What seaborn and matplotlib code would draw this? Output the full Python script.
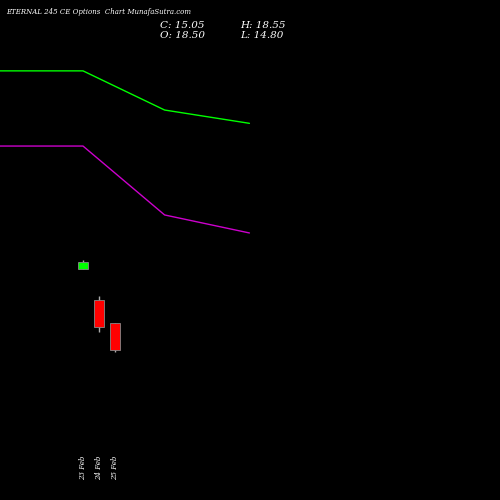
import matplotlib
matplotlib.use("Agg")
import matplotlib.pyplot as plt
import seaborn as sns
import pandas as pd

sns.set_style("dark")
dates = ["23 Feb", "24 Feb", "25 Feb"]
opens = [25.45, 21.44, 18.50]
closes = [26.3, 18.0, 15.05]
highs = [26.6, 21.95, 18.55]
lows = [25.45, 17.35, 14.80]
line_x = [-5.2, 0, 5.1, 10.4]
green_line = [50.7, 50.7, 45.7, 44.0]
purple_line = [41.1, 41.1, 32.3, 30.0]

fig = plt.figure(figsize=(5, 5), dpi=100, facecolor="black")
ax = fig.add_axes([0, 0, 1, 1], facecolor="black")
df = pd.DataFrame({"x": line_x, "g": green_line, "p": purple_line})
sns.lineplot(data=df, x="x", y="g", color="#00ff00", lw=1, ax=ax)
sns.lineplot(data=df, x="x", y="p", color="#cc00cc", lw=1, ax=ax)
for i, (o, c, h, l) in enumerate(zip(opens, closes, highs, lows)):
    col = "#00ff00" if c >= o else "#ff0000"
    ax.vlines(i, l, h, color="#aaaaaa", lw=1, zorder=1)
    ax.bar(i, abs(c - o), bottom=min(o, c), width=0.58, color=col, edgecolor="#888888", lw=0.6, zorder=2)
    ax.text(i, 1.6, dates[i], rotation=90, color="white", fontsize=5, family="DejaVu Serif",
            style="italic", ha="center", va="top")
ax.set_xlim(-5.1875, 26.06)
ax.set_ylim(-4.1, 59.75)
ax.axis("off")
fig.text(0.012, 0.985, "ETERNAL 245 CE Options  Chart MunafaSutra.com", color="white", fontsize=5,
         family="DejaVu Serif", style="italic", va="top")
fig.text(0.32, 0.958, "C: 15.05", color="white", fontsize=7.5, family="DejaVu Serif", style="italic", va="top")
fig.text(0.32, 0.938, "O: 18.50", color="white", fontsize=7.5, family="DejaVu Serif", style="italic", va="top")
fig.text(0.48, 0.958, "H: 18.55", color="white", fontsize=7.5, family="DejaVu Serif", style="italic", va="top")
fig.text(0.48, 0.938, "L: 14.80", color="white", fontsize=7.5, family="DejaVu Serif", style="italic", va="top")
fig.savefig("out.png", facecolor="black")
